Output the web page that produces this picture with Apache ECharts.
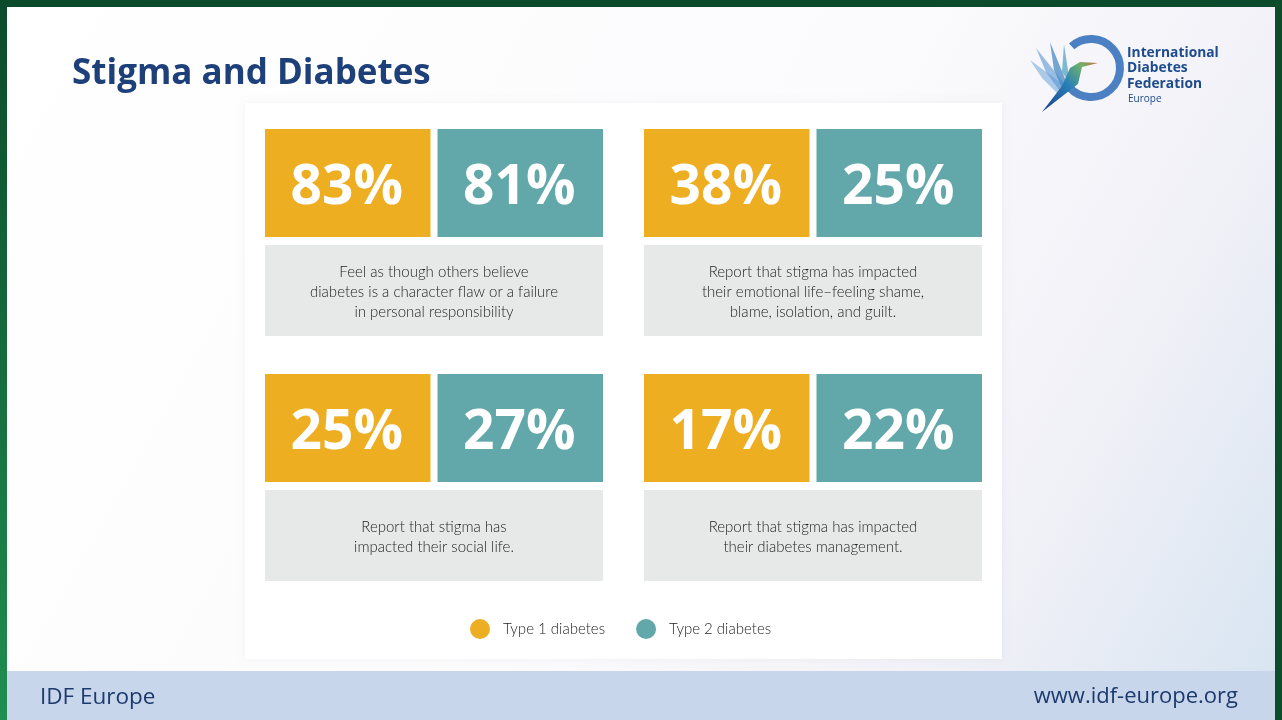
<!DOCTYPE html>
<html>
<head>
<meta charset="utf-8">
<script src="https://cdn.jsdelivr.net/npm/echarts@6/dist/echarts.min.js"></script>
<style>
html,body{margin:0;padding:0;background:#0b4a2a;}
#chart{width:1282px;height:720px;}
</style>
</head>
<body>
<div id="chart"></div>
<script>
// ---- data ----
const statements = [
  "Feel as though others believe\ndiabetes is a character flaw or a failure\nin personal responsibility",
  "Report that stigma has impacted\ntheir emotional life\u2013feeling shame,\nblame, isolation, and guilt.",
  "Report that stigma has\nimpacted their social life.",
  "Report that stigma has impacted\ntheir diabetes management."
];
const type1Values = [83, 38, 25, 17];
const type2Values = [81, 25, 27, 22];
const seriesNames = ["Type 1 diabetes", "Type 2 diabetes"];
const columns = ["c0", "c1"];
const rows = ["r0", "r1"];

// ---- styles ----
const ORANGE = "#EDAE22";
const TEAL = "#62A8AA";
const GREY = "#E7E9E8";
const NUM_FONT = "'Open Sans', 'Noto Sans', sans-serif";
const TXT_FONT = "Lato, 'Open Sans', sans-serif";

function cellBox(api) {
  const c = api.coord([api.value(0), api.value(1)]);
  const s = api.size([1, 1]);
  const x0 = c[0] - s[0] / 2 + 20.5;
  const y0 = c[1] - s[1] / 2 + 19;
  const w = s[0] - 41;
  const h = s[1] - 38;
  return {x0, y0, w, h};
}

function tileRender(which, color) {
  return function (params, api) {
    const b = cellBox(api);
    const half = (b.w - 7) / 2;
    const x = which === 0 ? b.x0 : b.x0 + half + 7;
    const th = 108;
    return {
      type: "group",
      children: [
        {type: "rect", shape: {x: x, y: b.y0, width: half, height: th}, style: {fill: color}},
        {type: "text", style: {
          text: api.value(2) + "%", x: x + half / 2 - 1, y: b.y0 + th / 2 + 5,
          align: "center", verticalAlign: "middle",
          fill: "#ffffff", fontSize: 55, fontWeight: "bold", fontFamily: NUM_FONT
        }}
      ]
    };
  };
}

function captionRender(params, api) {
  const b = cellBox(api);
  const top = b.y0 + 116;
  const hh = b.h - 116;
  return {
    type: "group",
    children: [
      {type: "rect", shape: {x: b.x0, y: top, width: b.w, height: hh}, style: {fill: GREY}},
      {type: "text", style: {
        text: statements[api.value(2)], x: b.x0 + b.w / 2, y: top + hh / 2 + 2,
        align: "center", verticalAlign: "middle", lineHeight: 20,
        fill: "#1e1e1e", fontSize: 15, fontWeight: 300, fontFamily: TXT_FONT
      }}
    ]
  };
}

const t1Data = type1Values.map((v, i) => [i % 2, Math.floor(i / 2), v]);
const t2Data = type2Values.map((v, i) => [i % 2, Math.floor(i / 2), v]);
const capData = statements.map((s, i) => [i % 2, Math.floor(i / 2), i]);

// ---- decoration (frame, panel, logo, footer) ----
const graphics = [
  {type: "rect", z: -10, shape: {x: 7, y: 7, width: 1268, height: 713},
   style: {fill: {type: "linear", x: 0, y: 0, x2: 1, y2: 1, colorStops: [
     {offset: 0, color: "#ffffff"}, {offset: 0.55, color: "#fbfbfd"},
     {offset: 0.8, color: "#f0f0f7"}, {offset: 1, color: "#d6e4f1"}]}}},
  {type: "rect", z: -9, shape: {x: 0, y: 0, width: 7, height: 720},
   style: {fill: {type: "linear", x: 0, y: 0, x2: 0, y2: 1, colorStops: [
     {offset: 0, color: "#0b4a2a"}, {offset: 1, color: "#1f8e50"}]}}},
  {type: "rect", z: -9, shape: {x: 0, y: 0, width: 1282, height: 7}, style: {fill: "#0b4a2a"}},
  {type: "rect", z: -9, shape: {x: 1275, y: 0, width: 7, height: 720}, style: {fill: "#0e4d2c"}},
  {type: "rect", z: -8, shape: {x: 245, y: 103, width: 757, height: 556},
   style: {fill: "#ffffff", shadowBlur: 6, shadowColor: "rgba(0,0,0,0.04)"}},
  {type: "rect", z: -7, shape: {x: 7, y: 671, width: 1268, height: 49}, style: {fill: "#C8D6EC"}},
  {type: "text", left: 40, top: 686, style: {text: "IDF Europe", fill: "#1d3a6c", fontSize: 22.5, fontFamily: NUM_FONT}},
  {type: "text", right: 44, top: 686, style: {text: "www.idf-europe.org", fill: "#1d3a6c", fontSize: 22, fontFamily: NUM_FONT, align: "right"}},
  {type: "arc", shape: {cx: 1091, cy: 68, r: 29, startAngle: -2.3, endAngle: 2.45, clockwise: true},
   style: {stroke: "#4b80c2", lineWidth: 8, fill: null}},
  {type: "polygon", shape: {points: [[1068, 88], [1030, 60], [1042, 78], [1060, 96]]}, style: {fill: "rgba(120,170,220,0.6)"}},
  {type: "polygon", shape: {points: [[1068, 88], [1036, 48], [1046, 72], [1062, 94]]}, style: {fill: "rgba(90,150,210,0.6)"}},
  {type: "polygon", shape: {points: [[1068, 86], [1050, 42], [1054, 70], [1064, 92]]}, style: {fill: "rgba(60,130,190,0.7)"}},
  {type: "polygon", shape: {points: [[1070, 84], [1064, 44], [1062, 72]]}, style: {fill: "rgba(70,160,190,0.7)"}},
  {type: "polygon", shape: {points: [[1042, 112], [1062, 86], [1070, 68], [1080, 62], [1098, 63], [1082, 67], [1078, 84], [1060, 98]]},
   style: {fill: {type: "linear", x: 0, y: 1, x2: 1, y2: 0, colorStops: [
     {offset: 0, color: "#1d3f8a"}, {offset: 0.5, color: "#2a7fb8"}, {offset: 0.8, color: "#6fb36a"}, {offset: 1, color: "#d06a3a"}]}}},
  {type: "text", left: 1127, top: 45, style: {text: "International\nDiabetes\nFederation", fill: "#1e4b8c", fontSize: 13.8, fontWeight: "bold", lineHeight: 15.5, fontFamily: NUM_FONT}},
  {type: "text", left: 1128, top: 94, style: {text: "Europe", fill: "#1e4b8c", fontSize: 10, fontFamily: NUM_FONT}}
];

const chart = echarts.init(document.getElementById("chart"), null, {renderer: "canvas"});
chart.setOption({
  backgroundColor: "transparent",
  animation: false,
  title: {
    text: "Stigma and Diabetes", left: 67, top: 52,
    textStyle: {color: "#1d3f7a", fontSize: 35, fontWeight: "bold", fontFamily: NUM_FONT}
  },
  legend: {
    left: 465, top: 614, itemWidth: 20, itemHeight: 20, itemGap: 31, icon: "circle",
    data: seriesNames,
    textStyle: {color: "#1e1e1e", fontSize: 15, fontWeight: 300, fontFamily: TXT_FONT, padding: [0, 0, 0, 8]}
  },
  grid: {left: 244.5, right: 279.5, top: 110, bottom: 120},
  xAxis: {type: "category", data: columns, show: false},
  yAxis: {type: "category", data: rows, inverse: true, show: false},
  series: [
    {name: seriesNames[0], type: "custom", renderItem: tileRender(0, ORANGE), data: t1Data,
     itemStyle: {color: ORANGE}, encode: {x: 0, y: 1}},
    {name: seriesNames[1], type: "custom", renderItem: tileRender(1, TEAL), data: t2Data,
     itemStyle: {color: TEAL}, encode: {x: 0, y: 1}},
    {name: "captions", type: "custom", renderItem: captionRender, data: capData, encode: {x: 0, y: 1}}
  ],
  graphic: graphics
});
</script>
</body>
</html>
